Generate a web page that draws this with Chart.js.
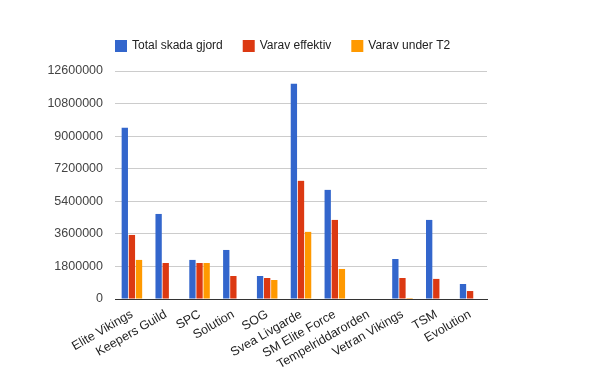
<!DOCTYPE html>
<html>
<head>
<meta charset="utf-8">
<script src="https://cdn.jsdelivr.net/npm/chart.js@4"></script>
<style>
  html, body { margin: 0; padding: 0; background: #fff; }
  #wrap { width: 600px; height: 371px; }
</style>
</head>
<body>
<div id="wrap"><canvas id="chart" width="600" height="371"></canvas></div>
<script>
// Categories and series
const teams = ['Elite Vikings', 'Keepers Guild', 'SPC', 'Solution', 'SOG', 'Svea Livgarde',
    'SM Elite Force', 'Tempelriddarorden', 'Vetran Vikings', 'TSM', 'Evolution'];
const totalDamage = [9460000, 4700000, 2160000, 2710000, 1270000, 11900000, 6030000, 0, 2210000, 4370000, 830000];
const effectiveDamage = [3540000, 1990000, 1990000, 1270000, 1160000, 6530000, 4370000, 0, 1160000, 1110000, 440000];
const underT2 = [2160000, 0, 1990000, 0, 1050000, 3710000, 1660000, 0, 55000, 0, 0];
const yTicks = [0, 1800000, 3600000, 5400000, 7200000, 9000000, 10800000, 12600000];

const fontFamily = 'Arial, "Liberation Sans", sans-serif';

// Legend drawn in one row starting at the chart area's left edge
const rowLegend = {
    id: 'rowLegend',
    afterDraw(chart) {
        const ctx = chart.ctx;
        let x = chart.chartArea.left;
        const y = 46;
        ctx.save();
        ctx.font = '12px ' + fontFamily;
        ctx.textBaseline = 'middle';
        chart.data.datasets.forEach(ds => {
            ctx.fillStyle = ds.backgroundColor;
            ctx.fillRect(x, y - 6, 12, 12);
            ctx.fillStyle = '#222';
            ctx.fillText(ds.label, x + 17, y);
            x += 17 + ctx.measureText(ds.label).width + 20;
        });
        ctx.restore();
    }
};

function makeChart() {
    const ctx = document.getElementById('chart').getContext('2d');
    new Chart(ctx, {
        type: 'bar',
        data: {
            labels: teams,
            datasets: [
                { label: 'Total skada gjord', data: totalDamage, backgroundColor: '#3366cc' },
                { label: 'Varav effektiv', data: effectiveDamage, backgroundColor: '#dc3912' },
                { label: 'Varav under T2', data: underT2, backgroundColor: '#ff9900' }
            ]
        },
        plugins: [rowLegend],
        options: {
            responsive: false,
            animation: false,
            layout: { padding: { left: 0, right: 113, top: 71, bottom: 0 } },
            datasets: {
                bar: { categoryPercentage: 0.63, barPercentage: 0.89 }
            },
            plugins: {
                tooltip: { enabled: false },
                legend: { display: false }
            },
            scales: {
                x: {
                    grid: { display: false, drawTicks: false },
                    border: { display: true, color: '#333', width: 1 },
                    ticks: {
                        autoSkip: false,
                        minRotation: 30,
                        maxRotation: 30,
                        padding: 8,
                        color: '#222',
                        font: { family: fontFamily, size: 12.5 }
                    },
                    afterFit: function (scale) { scale.height = 72; }
                },
                y: {
                    min: 0,
                    max: yTicks[yTicks.length - 1],
                    afterBuildTicks: function (scale) {
                        scale.ticks = yTicks.map(v => ({ value: v }));
                    },
                    grid: {
                        drawTicks: false,
                        color: c => c.tick && c.tick.value === 0 ? 'rgba(0,0,0,0)' : '#cccccc'
                    },
                    border: { display: false },
                    ticks: {
                        padding: 12,
                        color: '#444',
                        font: { family: fontFamily, size: 12.5 },
                        callback: v => String(v)
                    },
                    afterFit: function (scale) { scale.width = 115; }
                }
            }
        }
    });
}

makeChart();
</script>
</body>
</html>
